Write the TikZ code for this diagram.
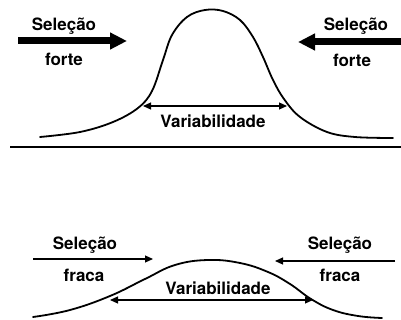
\documentclass[tikz,border=0pt]{standalone}
\usepackage{fontspec}
\setmainfont{TeX Gyre Heros}
\usetikzlibrary{arrows.meta}
\begin{document}
\begin{tikzpicture}[x=1pt, y=-1pt, >={Triangle[length=8pt,width=7pt]},
    rotulo/.style={font=\bfseries\fontsize{17}{20}\selectfont, inner sep=0pt, anchor=base},
    seta forte/.style={line width=7pt, -{Triangle[length=17pt,width=16pt]}},
    seta fraca/.style={line width=1.2pt},
    curva/.style={line width=1.8pt, line cap=round}]
    \useasboundingbox (0,0) rectangle (401,320);

    % 选择强：窄分布
    \draw[curva] plot[smooth, tension=0.6] coordinates {(40,137) (80,132) (113,122) (138,108) (152,91) (163,60) (172,35) (187,17) (205,10) (223,11) (240,20) (253,37) (263,57) (273,80) (284,99) (300,117) (327,132) (355,137) (393,138)};

    % 分隔线
    \coordinate (L1) at (10,147);
    \coordinate (L2) at (401,147);
    \draw[line width=1.5pt] (L1) -- (L2);

    % 上方箭头端点
    \coordinate (FE1) at (18,41);
    \coordinate (FE2) at (127,41);
    \coordinate (FD1) at (401,42);
    \coordinate (FD2) at (298,42);
    \coordinate (VA1) at (143,106);
    \coordinate (VA2) at (287,106);

    \draw[seta forte] (FE1) -- (FE2);
    \draw[seta forte] (FD1) -- (FD2);
    \draw[seta fraca, <->] (VA1) -- (VA2);

    % 上方文字
    \node[rotulo] (sel1) at (64,31) {Seleção};
    \node[rotulo] (forte1) at (64,66) {forte};
    \node[rotulo] (sel2) at (356,31) {Seleção};
    \node[rotulo] (forte2) at (352,67) {forte};
    \node[rotulo] (var1) at (213,128) {Variabilidade};

    % 选择弱：宽分布
    \draw[curva] plot[smooth, tension=0.7] coordinates {(33,317) (70,310) (110,296) (145,279) (175,265) (208,260) (240,263) (268,272) (290,284) (311,299) (333,310) (358,316) (382,318)};

    % 下方箭头端点
    \coordinate (BE1) at (33,259);
    \coordinate (BE2) at (153,259);
    \coordinate (BD1) at (395,261);
    \coordinate (BD2) at (275,261);
    \coordinate (VB1) at (110,300);
    \coordinate (VB2) at (313,300);

    \draw[seta fraca, ->] (BE1) -- (BE2);
    \draw[seta fraca, ->] (BD1) -- (BD2);
    \draw[seta fraca, <->] (VB1) -- (VB2);

    % 下方文字
    \node[rotulo] (sel3) at (85,249) {Seleção};
    \node[rotulo] (fraca1) at (84,281) {fraca};
    \node[rotulo] (sel4) at (340,249) {Seleção};
    \node[rotulo] (fraca2) at (340,281) {fraca};
    \node[rotulo] (var2) at (218,294) {Variabilidade};
\end{tikzpicture}
\end{document}
